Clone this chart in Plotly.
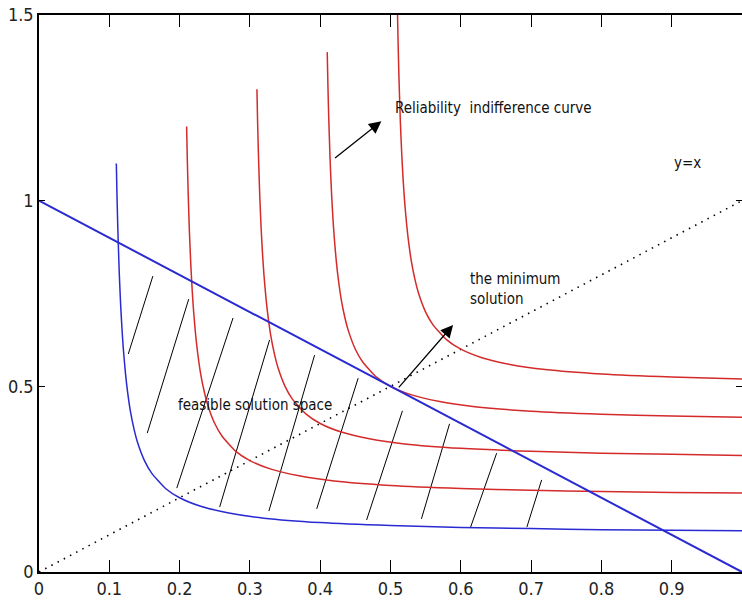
import plotly.graph_objects as go

# ---------------- data ----------------
x_ticks = [0, 0.1, 0.2, 0.3, 0.4, 0.5, 0.6, 0.7, 0.8, 0.9, 1]
x_tick_labels = ["0", "0.1", "0.2", "0.3", "0.4", "0.5", "0.6", "0.7", "0.8", "0.9", "1"]
y_ticks = [0, 0.5, 1, 1.5]
y_tick_labels = ["0", "0.5", "1", "1.5"]

# blue constraint curve (lower boundary of feasible space)
blue_curve_x = [0.11, 0.111, 0.112, 0.114, 0.116, 0.118, 0.12, 0.123, 0.126, 0.13, 0.135, 0.14,
                0.15, 0.16, 0.18, 0.2, 0.23, 0.27, 0.32, 0.4, 0.5, 0.6, 0.7, 0.8, 0.9, 1.0]
blue_curve_y = [1.1, 1.009, 0.933, 0.814, 0.725, 0.656, 0.6, 0.535, 0.485, 0.433, 0.386, 0.35,
                0.3, 0.267, 0.225, 0.2, 0.177, 0.159, 0.145, 0.133, 0.125, 0.12, 0.117, 0.114, 0.1125, 0.111]

# blue straight budget line
blue_line_x = [0, 1]
blue_line_y = [1, 0]

# dotted y = x line
diag_x = [0, 1]
diag_y = [0, 1]

# red reliability indifference curves
red1_x = [0.21, 0.211, 0.212, 0.214, 0.216, 0.218, 0.22, 0.223, 0.226, 0.23, 0.235, 0.24, 0.25,
          0.26, 0.28, 0.3, 0.33, 0.37, 0.42, 0.5, 0.6, 0.7, 0.8, 0.9, 1.0]
red1_y = [1.2, 1.109, 1.033, 0.914, 0.825, 0.756, 0.7, 0.635, 0.585, 0.533, 0.486, 0.45, 0.4,
          0.367, 0.325, 0.3, 0.277, 0.259, 0.245, 0.233, 0.225, 0.22, 0.217, 0.214, 0.2125]

red2_x = [0.31, 0.311, 0.312, 0.314, 0.316, 0.318, 0.32, 0.323, 0.326, 0.33, 0.335, 0.34, 0.35,
          0.36, 0.38, 0.4, 0.43, 0.47, 0.52, 0.6, 0.7, 0.8, 0.9, 1.0]
red2_y = [1.3, 1.209, 1.133, 1.014, 0.925, 0.856, 0.8, 0.735, 0.685, 0.633, 0.586, 0.55, 0.5,
          0.467, 0.425, 0.4, 0.377, 0.359, 0.345, 0.333, 0.325, 0.32, 0.317, 0.314]

red3_x = [0.41, 0.411, 0.412, 0.414, 0.416, 0.418, 0.42, 0.423, 0.426, 0.43, 0.435, 0.44, 0.45,
          0.46, 0.48, 0.5, 0.53, 0.57, 0.62, 0.7, 0.8, 0.9, 1.0]
red3_y = [1.4, 1.309, 1.233, 1.114, 1.025, 0.956, 0.9, 0.835, 0.785, 0.733, 0.686, 0.65, 0.6,
          0.567, 0.525, 0.5, 0.477, 0.459, 0.445, 0.433, 0.425, 0.42, 0.417]

red4_x = [0.51, 0.511, 0.512, 0.514, 0.516, 0.518, 0.52, 0.523, 0.526, 0.53, 0.535, 0.54, 0.55,
          0.56, 0.58, 0.6, 0.63, 0.67, 0.72, 0.8, 0.9, 1.0]
red4_y = [1.5, 1.409, 1.333, 1.214, 1.125, 1.056, 1.0, 0.935, 0.885, 0.833, 0.786, 0.75, 0.7,
          0.667, 0.625, 0.6, 0.577, 0.559, 0.545, 0.533, 0.525, 0.52]

# hatch segments of the feasible solution space
hatch_x0 = [0.127, 0.154, 0.196, 0.257, 0.327, 0.395, 0.466, 0.544, 0.614, 0.694]
hatch_y0 = [0.587, 0.374, 0.226, 0.175, 0.164, 0.170, 0.140, 0.143, 0.121, 0.121]
hatch_x1 = [0.162, 0.213, 0.276, 0.328, 0.392, 0.454, 0.517, 0.584, 0.651, 0.715]
hatch_y1 = [0.797, 0.735, 0.684, 0.625, 0.584, 0.522, 0.434, 0.399, 0.320, 0.248]

# arrows (tail -> head)
arrow1_tail = (0.419, 1.112)
arrow1_head = (0.487, 1.214)
arrow2_tail = (0.510, 0.493)
arrow2_head = (0.589, 0.665)

# text labels
label_texts = ["Reliability  indifference curve", "y=x", "the minimum<br>solution", "feasible solution space"]
label_x = [0.503, 0.901, 0.610, 0.195]
label_y = [1.250, 1.102, 0.762, 0.450]

# ---------------- styling ----------------
RED = "#d42a2a"
BLUE = "#2a2ad2"
FONT = "Liberation Sans Narrow, Arial Narrow, DejaVu Sans Condensed, sans-serif"

fig = go.Figure()

# dotted y=x
fig.add_trace(go.Scatter(x=diag_x, y=diag_y, mode="lines",
                         line=dict(color="black", width=1.6, dash="1.5px,5.5px"),
                         showlegend=False, hoverinfo="skip"))

# hatch lines
hx, hy = [], []
for a, b, c, d in zip(hatch_x0, hatch_y0, hatch_x1, hatch_y1):
    hx += [a, c, None]
    hy += [b, d, None]
fig.add_trace(go.Scatter(x=hx, y=hy, mode="lines", line=dict(color="black", width=1),
                         showlegend=False, hoverinfo="skip"))

for xs, ys in [(red1_x, red1_y), (red2_x, red2_y), (red3_x, red3_y), (red4_x, red4_y)]:
    fig.add_trace(go.Scatter(x=xs, y=ys, mode="lines",
                             line=dict(color=RED, width=1.5, shape="spline", smoothing=0.6),
                             showlegend=False, hoverinfo="skip"))

fig.add_trace(go.Scatter(x=blue_curve_x, y=blue_curve_y, mode="lines",
                         line=dict(color=BLUE, width=1.5, shape="spline", smoothing=0.6),
                         showlegend=False, hoverinfo="skip"))
fig.add_trace(go.Scatter(x=blue_line_x, y=blue_line_y, mode="lines",
                         line=dict(color=BLUE, width=2),
                         showlegend=False, hoverinfo="skip"))

# invisible trace to activate right-side tick axis
fig.add_trace(go.Scatter(x=[0], y=[0], yaxis="y2", mode="markers", marker=dict(opacity=0),
                         showlegend=False, hoverinfo="skip"))

annotations = []
for tail, head in [(arrow1_tail, arrow1_head), (arrow2_tail, arrow2_head)]:
    annotations.append(dict(x=head[0], y=head[1], ax=tail[0], ay=tail[1],
                            xref="x", yref="y", axref="x", ayref="y",
                            showarrow=True, arrowhead=2, arrowsize=1.9, arrowwidth=1.3,
                            arrowcolor="black", text=""))
for t, x, y in zip(label_texts, label_x, label_y):
    annotations.append(dict(x=x, y=y, xref="x", yref="y", text=t, showarrow=False,
                            xanchor="left", yanchor="middle", align="left",
                            font=dict(family=FONT, size=15, color="#111111")))

fig.update_layout(
    width=742, height=602,
    margin=dict(l=39, r=0, t=15, b=30),
    paper_bgcolor="white", plot_bgcolor="white",
    annotations=annotations,
    showlegend=False,
    font=dict(family=FONT, size=18, color="#222222"),
    xaxis=dict(range=[0, 1], tickvals=x_ticks, ticktext=x_tick_labels,
               ticks="inside", ticklen=12, tickwidth=1.2, tickcolor="black",
               showline=True, linecolor="black", linewidth=1.5, mirror="ticks",
               showgrid=False, zeroline=False, fixedrange=True),
    yaxis=dict(range=[0, 1.5], tickvals=y_ticks, ticktext=y_tick_labels,
               ticks="inside", ticklen=6, tickwidth=1.2, tickcolor="black",
               showline=True, linecolor="black", linewidth=1.5, mirror=False,
               showgrid=False, zeroline=False, fixedrange=True),
    yaxis2=dict(overlaying="y", side="right", range=[0, 1.5], tickvals=y_ticks,
                showticklabels=False, ticks="inside", ticklen=6, tickwidth=1.2, tickcolor="black",
                showline=False, showgrid=False, zeroline=False, fixedrange=True),
)

fig.write_html("out.html", config={"displayModeBar": False})
